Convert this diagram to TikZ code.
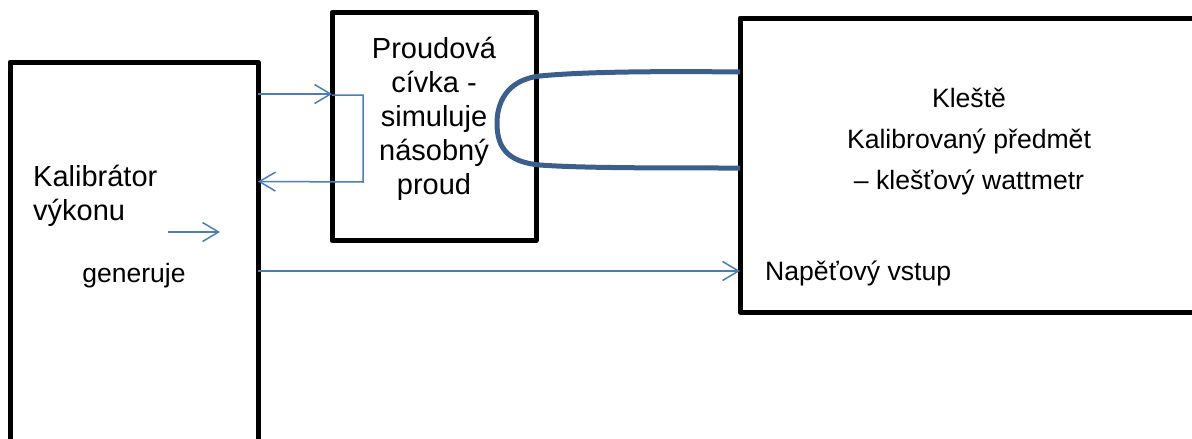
\documentclass[tikz,border=0pt]{standalone}
\usepackage{fontspec}
\setmainfont{Liberation Sans}
\usetikzlibrary{arrows.meta}
\definecolor{arrblue}{RGB}{74,126,187}
\definecolor{clampblue}{RGB}{59,94,140}
\tikzset{
  blk/.style={draw=black, line width=5pt, line join=round, outer sep=0pt, inner sep=0pt, fill=none},
  arr/.style={draw=arrblue, line width=1.5pt, -{Straight Barb[length=16pt,width=19pt,line width=1.5pt]}},
  clamp/.style={draw=clampblue, line width=5pt},
  txt/.style={font=\fontsize{29}{34}\selectfont, inner sep=0pt},
  rtxt/.style={font=\fontsize{26.6}{41}\selectfont, inner sep=0pt},
}
\begin{document}
\begin{tikzpicture}[x=1pt,y=-1pt]
\useasboundingbox (0,0) rectangle (1192,439);
% boxes
\node[blk, minimum width=248pt, minimum height=420pt, anchor=north west] (kal) at (10,62) {};
\node[blk, minimum width=204pt, minimum height=228pt, anchor=north west] (coil) at (332,12.5) {};
\node[blk, minimum width=520pt, minimum height=294pt, anchor=north west] (klest) at (740,18) {};
% texts
\node[txt, align=left, anchor=west] (kaltxt) at (33,196) {Kalibrátor\\výkonu};
\node[font=\fontsize{26.5}{30}\selectfont, inner sep=0pt] (gen) at (134,276) {generuje};
\node[txt, align=center] (coiltxt) at (434,119) {Proudová\\cívka -\\simuluje\\násobný\\proud};
\node[rtxt, align=center] (klesttxt) at (969,142) {Kleště\\Kalibrovaný předmět\\– klešťový wattmetr};
\node[rtxt, anchor=west] (nap) at (765,273) {Napěťový vstup};
% connectors
\draw[arr] ([yshift=-32pt]kal.north east) -- ([yshift=-81.5pt]coil.north west);
\draw[arr] ([yshift=-82.5pt]coil.north west) -- ++(31,0) -- ++(0,87) -- ([yshift=-119.5pt]kal.north east);
\coordinate (g1) at (168,232);
\coordinate (g2) at (220,232);
\draw[arr] (g1) -- (g2);
\draw[arr] ([yshift=-209pt]kal.north east) -- ([yshift=-253pt]klest.north west);
% clamp loop
\draw[clamp] ([yshift=-54pt]klest.north west) .. controls (650,71) and (580,72) .. (540,76)
  .. controls (505,80) and (497,105) .. (497,123)
  .. controls (497,145) and (505,162) .. (540,165)
  .. controls (580,168) and (650,168) .. ([yshift=-150pt]klest.north west);
\end{tikzpicture}
\end{document}
